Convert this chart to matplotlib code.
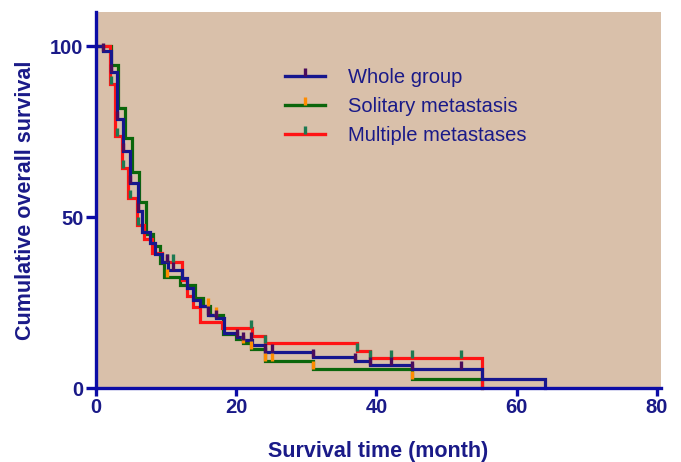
import matplotlib
matplotlib.use("Agg")
import matplotlib.pyplot as plt
import numpy as np
from matplotlib.lines import Line2D
from matplotlib.path import Path

# Kaplan-Meier steps (month, survival %)
whole_t = [0, 1.0, 2.2, 3.0, 3.9, 4.85, 6.0, 6.5, 7.7, 8.4, 9.4, 10.3, 12.2, 13.0, 13.8,
           14.8, 16.0, 17.1, 18.3, 20.1, 21.0, 22.2, 24.1, 31.0, 37.0, 39.1, 45.0, 55.0, 64.1]
whole_s = [100, 98.7, 92.4, 78.6, 69.3, 60.0, 51.7, 45.5, 42.5, 39.1, 37.0, 34.6, 32.3, 29.3, 25.8,
           23.9, 21.4, 20.4, 16.1, 15.0, 14.1, 12.6, 10.5, 9.1, 7.9, 6.7, 5.5, 2.6, 0]
whole_cens = [1.0, 2.2, 3.0, 3.9, 4.9, 6.0, 10.1, 11.0, 16.0, 17.1, 20.1, 21.0, 22.1, 24.1,
              25.1, 31.0, 37.0, 39.1, 42.1, 45.0, 52.1]

sol_t = [0, 2.2, 3.2, 4.1, 5.1, 6.2, 7.1, 8.1, 9.1, 9.7, 12.0, 14.1, 15.2, 16.3, 18.1,
         19.9, 21.0, 22.1, 24.1, 31.0, 45.0, 55.0]
sol_s = [100, 94.4, 82.0, 73.2, 63.1, 54.3, 45.0, 41.4, 36.6, 32.6, 30.2, 26.3, 24.0, 21.4, 15.8,
         14.3, 13.1, 11.3, 8.0, 5.5, 2.6, 0]
sol_cens = [10.1, 16.0, 17.1, 21.0, 22.1, 24.1, 25.1, 31.0, 45.0]

mult_t = [0, 2.0, 2.7, 3.7, 4.6, 5.8, 6.8, 8.0, 9.4, 12.2, 13.0, 13.8, 14.8, 17.9, 22.2,
          24.1, 37.2, 39.1, 55.1]
mult_s = [100, 89.0, 73.7, 64.4, 55.6, 47.8, 43.6, 39.5, 37.0, 31.7, 26.8, 23.8, 19.2, 17.5, 15.2,
          13.3, 10.9, 8.8, 0]
mult_cens = [2.2, 3.0, 3.9, 4.9, 6.0, 10.1, 11.0, 22.1, 24.1, 37.2, 39.1, 42.1, 45.0, 52.1]

labels = ["Whole group", "Solitary metastasis", "Multiple metastases"]

navy = "#16168e"
text_col = "#1a1a88"
axis_col = "#0c0ca6"
bg = "#d9c0aa"
fam = ["Liberation Sans", "DejaVu Sans"]

# tick mark pointing up from the curve
tick = Path([(0, 0), (0, 1)])

fig = plt.figure(figsize=(6.81, 4.62), dpi=100)
ax = fig.add_axes([96 / 681, 74 / 462, 564.5 / 681, 376 / 462])
ax.set_facecolor(bg)


def level(ts, ss, c):
    i = np.searchsorted(ts, c, side="right") - 1
    return np.array(ss)[i]


series = [
    (sol_t, sol_s, sol_cens, "#0b660b", "#ff8c00"),
    (mult_t, mult_s, mult_cens, "#ff1414", "#1d7a52"),
    (whole_t, whole_s, whole_cens, navy, "#4a0c5c"),
]
for ts, ss, cens, lc, cc in series:
    ax.step(ts, ss, where="post", color=lc, lw=2.3, solid_joinstyle="miter", clip_on=False)
for ts, ss, cens, lc, cc in series:
    ax.plot(cens, level(ts, ss, cens), ls="none", marker=tick, ms=11, mew=2.4,
            color=cc, clip_on=False)

ax.set_xlim(0, 80.5)
ax.set_ylim(0, 110)
ax.set_xticks([0, 20, 40, 60, 80])
ax.set_yticks([0, 50, 100])

for sp in ["top", "right"]:
    ax.spines[sp].set_visible(False)
for sp in ["left", "bottom"]:
    ax.spines[sp].set_color(axis_col)
    ax.spines[sp].set_linewidth(2.4)
ax.tick_params(colors=axis_col, width=2.4, labelcolor=text_col, labelsize=14.5)
ax.tick_params(axis="y", length=7, pad=2)
ax.tick_params(axis="x", length=5.5, pad=2)
for lab in ax.get_xticklabels() + ax.get_yticklabels():
    lab.set_fontfamily(fam)
    lab.set_fontweight("bold")

ax.set_xlabel("Survival time (month)", fontsize=15.5, fontweight="bold", color=text_col,
              family=fam, labelpad=17)
ax.set_ylabel("Cumulative overall survival", fontsize=15.5, fontweight="bold", color=text_col,
              family=fam, labelpad=10)

handles = [
    Line2D([0], [0], color=navy, lw=2.4, marker=tick, ms=11, mew=2.4, mec="#4a0c5c", mfc="#4a0c5c"),
    Line2D([0], [0], color="#0b660b", lw=2.4, marker=tick, ms=11, mew=2.4, mec="#ff8c00", mfc="#ff8c00"),
    Line2D([0], [0], color="#ff1414", lw=2.4, marker=tick, ms=11, mew=2.4, mec="#1d7a52", mfc="#1d7a52"),
]
leg = ax.legend(handles, labels, loc="upper left", bbox_to_anchor=(285 / 681, 1 - 68 / 462),
                bbox_transform=fig.transFigure, frameon=False, numpoints=1,
                handlelength=2.0, handletextpad=1.15, labelspacing=0.5, borderpad=0,
                borderaxespad=0, prop={"family": fam, "size": 14.5})
for t in leg.get_texts():
    t.set_color(text_col)

fig.savefig("out.png", dpi=100)
